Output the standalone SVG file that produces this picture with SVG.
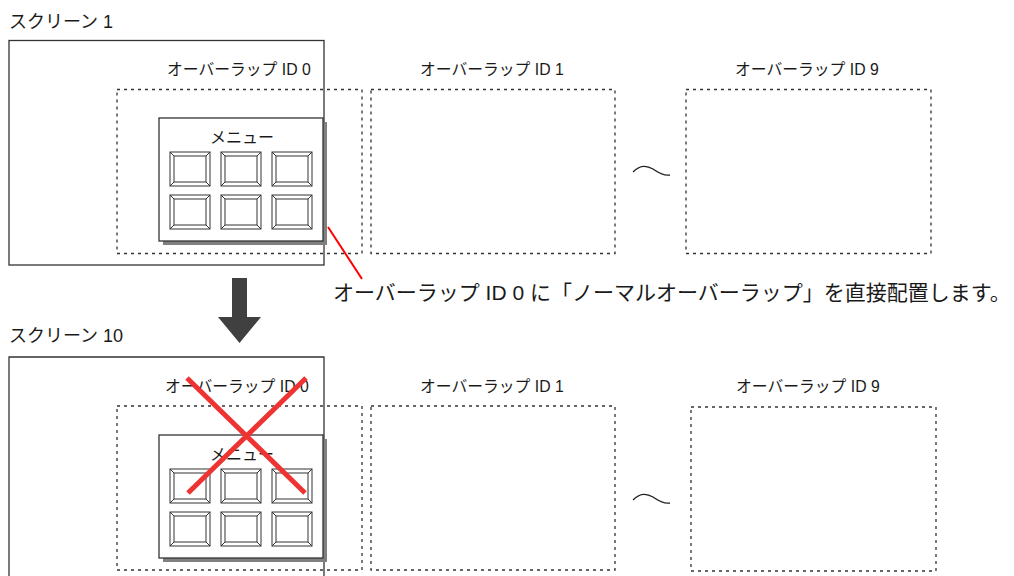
<svg xmlns="http://www.w3.org/2000/svg" xmlns:xlink="http://www.w3.org/1999/xlink" width="1014" height="576" viewBox="0 0 1014 576">
<style>
text{font-family:"Liberation Sans","Noto Sans CJK JP",sans-serif;fill:#1a1a1a}
.lbl{font-size:15.8px}
.scrlbl{font-size:18px}
.mlbl{font-size:16px}
.note{font-size:21px}
.scr{fill:#fff;stroke:#333;stroke-width:1.3}
.ov{fill:none;stroke:#333;stroke-width:1.3;stroke-dasharray:3 4}
.menu{fill:#fff;stroke:#333;stroke-width:1.3}
.shadow{fill:#808080}
.btn{fill:#fff;stroke:#333;stroke-width:1}
.tilde{fill:none;stroke:#222;stroke-width:1.3}
.cross{stroke:#ee3333;stroke-width:5;stroke-linecap:butt}
</style>
<defs>
<g id="button">
<rect class="btn" x="0" y="0" width="40" height="34"/>
<rect class="btn" x="4" y="4" width="32" height="26"/>
<path class="btn" d="M0,0L4,4M40,0L36,4M0,34L4,30M40,34L36,30"/>
</g>
<g id="menuwin">
<rect class="shadow" x="4" y="4" width="164" height="123"/>
<rect class="menu" x="0" y="0" width="164" height="123"/>
<text class="mlbl" x="83" y="25" text-anchor="middle">メニュー</text>
<use xlink:href="#button" x="11" y="34"/>
<use xlink:href="#button" x="62" y="34"/>
<use xlink:href="#button" x="113" y="34"/>
<use xlink:href="#button" x="11" y="77"/>
<use xlink:href="#button" x="62" y="77"/>
<use xlink:href="#button" x="113" y="77"/>
</g>
</defs>
<rect width="1014" height="576" fill="#fff"/>

<g id="screen1">
<text class="scrlbl" x="9" y="28">スクリーン 1</text>
<rect class="scr" x="9" y="40.5" width="315" height="224.5"/>
</g>
<g id="overlap0-top">
<text class="lbl" x="167" y="75">オーバーラップ ID 0</text>
<rect class="ov" x="117" y="89.5" width="245" height="164"/>
</g>
<g id="overlap1-top">
<text class="lbl" x="420" y="75">オーバーラップ ID 1</text>
<rect class="ov" x="371" y="89.5" width="244" height="164"/>
</g>
<g id="overlap9-top">
<text class="lbl" x="735" y="75">オーバーラップ ID 9</text>
<rect class="ov" x="686" y="89.5" width="245" height="164"/>
</g>
<g id="menu-top">
<use xlink:href="#menuwin" x="159" y="118"/>
</g>
<g id="tilde-top">
<path class="tilde" d="M633,172 C640,165 646,165 653,169 C660,174 665,176 670,175"/>
</g>

<g id="note">
<text class="note" x="333" y="300">オーバーラップ ID 0 に「ノーマルオーバーラップ」を直接配置します。</text>
</g>

<g id="arrow">
<path d="M232,278 H247 V317 H261 L239.5,343 L218,317 H232 Z" fill="#404040"/>
</g>

<g id="screen10">
<text class="scrlbl" x="9" y="342">スクリーン 10</text>
<path class="scr" d="M9,580 V357 H324 V580" fill="#fff"/>
</g>
<g id="overlap0-bottom">
<text class="lbl" x="165" y="392">オーバーラップ ID 0</text>
<rect class="ov" x="117" y="406" width="245" height="164"/>
</g>
<g id="overlap1-bottom">
<text class="lbl" x="420" y="392">オーバーラップ ID 1</text>
<rect class="ov" x="371" y="406" width="244" height="164"/>
</g>
<g id="overlap9-bottom">
<text class="lbl" x="736" y="392">オーバーラップ ID 9</text>
<rect class="ov" x="691" y="407" width="245" height="164"/>
</g>
<g id="menu-bottom">
<use xlink:href="#menuwin" x="159" y="435"/>
</g>
<g id="tilde-bottom">
<path class="tilde" d="M633,500 C640,493 646,493 653,497 C660,502 665,504 670,503"/>
</g>

<g id="connectors">
<line x1="328" y1="227" x2="362" y2="279" stroke="#ff0000" stroke-width="2"/>
<line class="cross" x1="187" y1="378" x2="305" y2="493"/>
<line class="cross" x1="306" y1="378" x2="188" y2="493"/>
</g>
</svg>
